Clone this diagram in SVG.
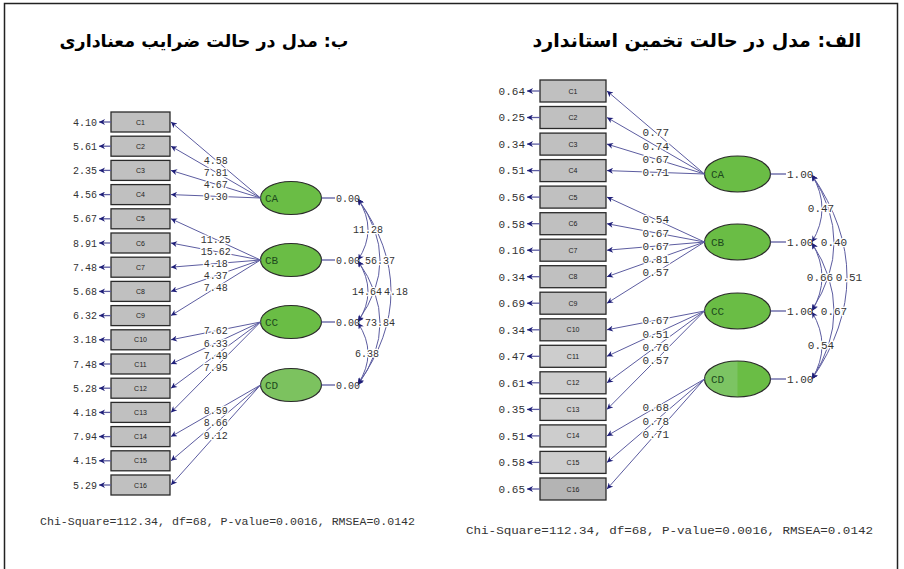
<svg xmlns="http://www.w3.org/2000/svg" width="904" height="569" viewBox="0 0 904 569">
<style>
.frame{fill:none;stroke:#222;stroke-width:1.5}
.title{font-family:"DejaVu Sans",sans-serif;font-weight:bold;font-size:19px;fill:#000}
.box{fill:#c0c0c0;stroke:#2a2a2a;stroke-width:1.3}
.lt{fill:#cdcdcd}
.bl{font-family:"Liberation Sans",Arial,sans-serif;font-size:7px;fill:#222;text-anchor:middle}
.ell{fill:#6abd45;stroke:#2a2a2a;stroke-width:1.2}
.el{font-family:"Liberation Mono","DejaVu Sans Mono",monospace;font-size:11px;fill:#1d4a1d}
.p{stroke:#5c5ca0;stroke-width:1;fill:none}
.v{stroke:#5c5ca0;stroke-width:1.3;fill:none}
.n{font-family:"Liberation Mono","DejaVu Sans Mono",monospace;font-size:10px;fill:#333}
.nr{font-family:"Liberation Mono","DejaVu Sans Mono",monospace;font-size:11px;fill:#333}
.h{stroke:#fff;stroke-width:2.5;paint-order:stroke;text-anchor:middle}
.e{text-anchor:end}
.fit{font-family:"Liberation Mono","Courier New",monospace;font-size:11px;fill:#333}
</style>
<defs>
<marker id="ah" viewBox="0 0 10 10" refX="10" refY="5" markerWidth="8" markerHeight="6" markerUnits="userSpaceOnUse" orient="auto-start-reverse">
<path d="M0,0 L10,5 L0,10 L3,5 z" fill="#1e1e78"/>
</marker>
</defs>
<rect width="904" height="569" fill="#fff"/>
<rect class="frame" x="4.5" y="3.5" width="893" height="580"/>
<text class="title" x="697" y="47" direction="rtl" text-anchor="middle">الف: مدل در حالت تخمین استاندارد</text>
<text class="title" x="204" y="47" direction="rtl" text-anchor="middle" style="font-size:17.5px">ب: مدل در حالت ضرایب معناداری</text>

<!-- LEFT DIAGRAM -->
<g id="left-nodes">
<g id="L-C1"><rect class="box" x="111" y="112" width="59" height="20"/><text class="bl" x="140.5" y="124.5">C1</text></g>
<g id="L-C2"><rect class="box" x="111" y="136.2" width="59" height="20"/><text class="bl" x="140.5" y="148.7">C2</text></g>
<g id="L-C3"><rect class="box" x="111" y="160.4" width="59" height="20"/><text class="bl" x="140.5" y="172.9">C3</text></g>
<g id="L-C4"><rect class="box" x="111" y="184.6" width="59" height="20"/><text class="bl" x="140.5" y="197.1">C4</text></g>
<g id="L-C5"><rect class="box" x="111" y="208.8" width="59" height="20"/><text class="bl" x="140.5" y="221.3">C5</text></g>
<g id="L-C6"><rect class="box" x="111" y="233" width="59" height="20"/><text class="bl" x="140.5" y="245.5">C6</text></g>
<g id="L-C7"><rect class="box" x="111" y="257.2" width="59" height="20"/><text class="bl" x="140.5" y="269.7">C7</text></g>
<g id="L-C8"><rect class="box" x="111" y="281.4" width="59" height="20"/><text class="bl" x="140.5" y="293.9">C8</text></g>
<g id="L-C9"><rect class="box" x="111" y="305.6" width="59" height="20"/><text class="bl" x="140.5" y="318.1">C9</text></g>
<g id="L-C10"><rect class="box" x="111" y="329.8" width="59" height="20"/><text class="bl" x="140.5" y="342.3">C10</text></g>
<g id="L-C11"><rect class="box" x="111" y="354" width="59" height="20"/><text class="bl" x="140.5" y="366.5">C11</text></g>
<g id="L-C12"><rect class="box" x="111" y="378.2" width="59" height="20"/><text class="bl" x="140.5" y="390.7">C12</text></g>
<g id="L-C13"><rect class="box" x="111" y="402.4" width="59" height="20"/><text class="bl" x="140.5" y="414.9">C13</text></g>
<g id="L-C14"><rect class="box" x="111" y="426.6" width="59" height="20"/><text class="bl" x="140.5" y="439.1">C14</text></g>
<g id="L-C15"><rect class="box" x="111" y="450.8" width="59" height="20"/><text class="bl" x="140.5" y="463.3">C15</text></g>
<g id="L-C16"><rect class="box" x="111" y="475" width="59" height="20"/><text class="bl" x="140.5" y="487.5">C16</text></g>
<g id="L-CA"><ellipse class="ell" cx="291" cy="198" rx="30.5" ry="16.5"/><text class="el" x="265" y="202">CA</text></g>
<g id="L-CB"><ellipse class="ell" cx="291" cy="260" rx="30.5" ry="16.5"/><text class="el" x="265" y="264">CB</text></g>
<g id="L-CC"><ellipse class="ell" cx="291" cy="322" rx="30.5" ry="16.5"/><text class="el" x="265" y="326">CC</text></g>
<g id="L-CD"><ellipse class="ell" cx="291" cy="385" rx="30.5" ry="16.5" style="fill:#7cc25f"/><text class="el" x="265" y="389">CD</text></g>
</g>

<g id="left-connectors">
<g marker-end="url(#ah)" class="v">
<path d="M111,122H99"/><path d="M111,146.2H99"/><path d="M111,170.4H99"/><path d="M111,194.6H99"/>
<path d="M111,218.8H99"/><path d="M111,243H99"/><path d="M111,267.2H99"/><path d="M111,291.4H99"/>
<path d="M111,315.6H99"/><path d="M111,339.8H99"/><path d="M111,364H99"/><path d="M111,388.2H99"/>
<path d="M111,412.4H99"/><path d="M111,436.6H99"/><path d="M111,460.8H99"/><path d="M111,485H99"/>
</g>
<g marker-end="url(#ah)" class="p">
<path d="M260.5,198L171,122"/><path d="M260.5,198L171,146.2"/><path d="M260.5,198L171,170.4"/><path d="M260.5,198L171,194.6"/>
<path d="M260.5,260L171,218.8"/><path d="M260.5,260L171,243"/><path d="M260.5,260L171,267.2"/><path d="M260.5,260L171,291.4"/><path d="M260.5,260L171,315.6"/>
<path d="M260.5,322L171,339.8"/><path d="M260.5,322L171,364"/><path d="M260.5,322L171,388.2"/><path d="M260.5,322L171,412.4"/>
<path d="M260.5,385L171,436.6"/><path d="M260.5,385L171,460.8"/><path d="M260.5,385L171,485"/>
</g>
<g class="v"><path d="M321.5,198H335"/><path d="M321.5,260H335"/><path d="M321.5,322H335"/><path d="M321.5,385H335"/></g>
<g class="p" marker-start="url(#ah)" marker-end="url(#ah)">
<path d="M358,199Q378,229.5 358,260"/>
<path d="M358,261Q378,291.5 358,322"/>
<path d="M358,323Q378,353.5 358,384"/>
<path d="M358,199Q402,260 358,321"/>
<path d="M358,261Q402,323 358,385"/>
<path d="M358,199Q424,291.5 358,384"/>
</g>
</g>

<g id="left-labels">
<g class="n e">
<text x="97" y="125.5">4.10</text><text x="97" y="149.7">5.61</text><text x="97" y="173.9">2.35</text><text x="97" y="198.1">4.56</text>
<text x="97" y="222.3">5.67</text><text x="97" y="246.5">8.91</text><text x="97" y="270.7">7.48</text><text x="97" y="294.9">5.68</text>
<text x="97" y="319.1">6.32</text><text x="97" y="343.3">3.18</text><text x="97" y="367.5">7.48</text><text x="97" y="391.7">5.28</text>
<text x="97" y="415.9">4.18</text><text x="97" y="440.1">7.94</text><text x="97" y="464.3">4.15</text><text x="97" y="488.5">5.29</text>
</g>
<g class="n h">
<text x="215.8" y="163.5">4.58</text><text x="215.8" y="175.6">7.81</text><text x="215.8" y="187.7">4.67</text><text x="215.8" y="199.8">9.30</text>
<text x="215.8" y="242.9">11.25</text><text x="215.8" y="255">15.62</text><text x="215.8" y="267.1">4.18</text><text x="215.8" y="279.2">4.37</text><text x="215.8" y="291.3">7.48</text>
<text x="215.8" y="334.4">7.62</text><text x="215.8" y="346.5">6.33</text><text x="215.8" y="358.6">7.49</text><text x="215.8" y="370.7">7.95</text>
<text x="215.8" y="414.3">8.59</text><text x="215.8" y="426.4">8.66</text><text x="215.8" y="438.5">9.12</text>
</g>
<g class="n">
<text x="336" y="201.5">0.00</text><text x="336" y="263.5">0.00</text><text x="336" y="325.5">0.00</text><text x="336" y="388.5">0.00</text>
</g>
<g class="n h">
<text x="368" y="233">11.28</text>
<text x="367" y="295">14.64</text>
<text x="367" y="357">6.38</text>
<text x="380" y="263.5">56.37</text>
<text x="380" y="326">73.84</text>
<text x="396" y="295">4.18</text>
</g>
<text class="fit" x="40" y="525" textLength="375" lengthAdjust="spacingAndGlyphs">Chi-Square=112.34, df=68, P-value=0.0016, RMSEA=0.0142</text>
</g>

<!-- RIGHT DIAGRAM -->
<g id="right-nodes">
<g id="R-C1"><rect class="box" x="540" y="80" width="66" height="22"/><text class="bl" x="573" y="93.5">C1</text></g>
<g id="R-C2"><rect class="box" x="540" y="106.5" width="66" height="22"/><text class="bl" x="573" y="120">C2</text></g>
<g id="R-C3"><rect class="box" x="540" y="133.1" width="66" height="22"/><text class="bl" x="573" y="146.6">C3</text></g>
<g id="R-C4"><rect class="box" x="540" y="159.6" width="66" height="22"/><text class="bl" x="573" y="173.1">C4</text></g>
<g id="R-C5"><rect class="box" x="540" y="186.1" width="66" height="22"/><text class="bl" x="573" y="199.6">C5</text></g>
<g id="R-C6"><rect class="box" x="540" y="212.7" width="66" height="22"/><text class="bl" x="573" y="226.2">C6</text></g>
<g id="R-C7"><rect class="box" x="540" y="239.2" width="66" height="22"/><text class="bl" x="573" y="252.7">C7</text></g>
<g id="R-C8"><rect class="box" x="540" y="265.7" width="66" height="22"/><text class="bl" x="573" y="279.2">C8</text></g>
<g id="R-C9"><rect class="box" x="540" y="292.2" width="66" height="22"/><text class="bl" x="573" y="305.7">C9</text></g>
<g id="R-C10"><rect class="box" x="540" y="318.8" width="66" height="22"/><text class="bl" x="573" y="332.3">C10</text></g>
<g id="R-C11"><rect class="box lt" x="540" y="345.3" width="66" height="22"/><text class="bl" x="573" y="358.8">C11</text></g>
<g id="R-C12"><rect class="box lt" x="540" y="371.8" width="66" height="22"/><text class="bl" x="573" y="385.3">C12</text></g>
<g id="R-C13"><rect class="box lt" x="540" y="398.4" width="66" height="22"/><text class="bl" x="573" y="411.9">C13</text></g>
<g id="R-C14"><rect class="box lt" x="540" y="424.9" width="66" height="22"/><text class="bl" x="573" y="438.4">C14</text></g>
<g id="R-C15"><rect class="box lt" x="540" y="451.4" width="66" height="22"/><text class="bl" x="573" y="464.9">C15</text></g>
<g id="R-C16"><rect class="box" x="540" y="478" width="66" height="22" style="fill:#b4b4b4"/><text class="bl" x="573" y="491.5">C16</text></g>
<g id="R-CA"><ellipse class="ell" cx="737.5" cy="174" rx="33" ry="18"/><text class="el" x="711" y="178">CA</text></g>
<g id="R-CB"><ellipse class="ell" cx="737.5" cy="242" rx="33" ry="18"/><text class="el" x="711" y="246">CB</text></g>
<g id="R-CC"><ellipse class="ell" cx="737.5" cy="311" rx="33" ry="18"/><text class="el" x="711" y="315">CC</text></g>
<g id="R-CD"><ellipse cx="737.5" cy="379" rx="33" ry="18" fill="#6abd45"/><path d="M737.5,361A33,18 0 0 0 737.5,397Z" fill="#7cc463"/><ellipse cx="737.5" cy="379" rx="33" ry="18" fill="none" stroke="#2a2a2a" stroke-width="1.2"/><text class="el" x="711" y="383">CD</text></g>
</g>

<g id="right-connectors">
<g marker-end="url(#ah)" class="v">
<path d="M540,91H527"/><path d="M540,117.5H527"/><path d="M540,144.1H527"/><path d="M540,170.6H527"/>
<path d="M540,197.1H527"/><path d="M540,223.7H527"/><path d="M540,250.2H527"/><path d="M540,276.7H527"/>
<path d="M540,303.2H527"/><path d="M540,329.8H527"/><path d="M540,356.3H527"/><path d="M540,382.8H527"/>
<path d="M540,409.4H527"/><path d="M540,435.9H527"/><path d="M540,462.4H527"/><path d="M540,489H527"/>
</g>
<g marker-end="url(#ah)" class="p">
<path d="M704.5,174L607,91"/><path d="M704.5,174L607,117.5"/><path d="M704.5,174L607,144.1"/><path d="M704.5,174L607,170.6"/>
<path d="M704.5,242L607,197.1"/><path d="M704.5,242L607,223.7"/><path d="M704.5,242L607,250.2"/><path d="M704.5,242L607,276.7"/><path d="M704.5,242L607,303.2"/>
<path d="M704.5,311L607,329.8"/><path d="M704.5,311L607,356.3"/><path d="M704.5,311L607,382.8"/><path d="M704.5,311L607,409.4"/>
<path d="M704.5,379L607,435.9"/><path d="M704.5,379L607,462.4"/><path d="M704.5,379L607,489"/>
</g>
<g class="v"><path d="M770.5,174H786"/><path d="M770.5,242H786"/><path d="M770.5,311H786"/><path d="M770.5,379H786"/></g>
<g class="p" marker-start="url(#ah)" marker-end="url(#ah)">
<path d="M812,175Q832,208.5 812,242"/>
<path d="M812,243Q832,277 812,311"/>
<path d="M812,312Q832,345.5 812,379"/>
<path d="M812,175Q856,242.5 812,310"/>
<path d="M812,243Q856,311 812,379"/>
<path d="M812,175Q882,277 812,379"/>
</g>
</g>

<g id="right-labels">
<g class="nr e">
<text x="525" y="94.8">0.64</text><text x="525" y="121.3">0.25</text><text x="525" y="147.9">0.34</text><text x="525" y="174.4">0.51</text>
<text x="525" y="200.9">0.56</text><text x="525" y="227.5">0.58</text><text x="525" y="254">0.16</text><text x="525" y="280.5">0.34</text>
<text x="525" y="307">0.69</text><text x="525" y="333.6">0.34</text><text x="525" y="360.1">0.47</text><text x="525" y="386.6">0.61</text>
<text x="525" y="413.2">0.35</text><text x="525" y="439.7">0.51</text><text x="525" y="466.2">0.58</text><text x="525" y="492.8">0.65</text>
</g>
<g class="nr h">
<text x="655.8" y="136.3">0.77</text><text x="655.8" y="149.6">0.74</text><text x="655.8" y="162.9">0.67</text><text x="655.8" y="176.1">0.71</text>
<text x="655.8" y="223.4">0.54</text><text x="655.8" y="236.7">0.67</text><text x="655.8" y="249.9">0.67</text><text x="655.8" y="263.2">0.81</text><text x="655.8" y="276.4">0.57</text>
<text x="655.8" y="324.2">0.67</text><text x="655.8" y="337.5">0.51</text><text x="655.8" y="350.7">0.76</text><text x="655.8" y="364">0.57</text>
<text x="655.8" y="411.3">0.68</text><text x="655.8" y="424.5">0.78</text><text x="655.8" y="437.8">0.71</text>
</g>
<g class="nr">
<text x="787" y="177.8">1.00</text><text x="787" y="245.8">1.00</text><text x="787" y="314.8">1.00</text><text x="787" y="382.8">1.00</text>
</g>
<g class="nr h">
<text x="821" y="212.3">0.47</text>
<text x="820" y="280.8">0.66</text>
<text x="821" y="349.3">0.54</text>
<text x="834" y="246.3">0.40</text>
<text x="834" y="314.8">0.67</text>
<text x="849" y="280.8">0.51</text>
</g>
<text class="fit" x="466" y="534" textLength="407" lengthAdjust="spacingAndGlyphs">Chi-Square=112.34, df=68, P-value=0.0016, RMSEA=0.0142</text>
</g>
</svg>
